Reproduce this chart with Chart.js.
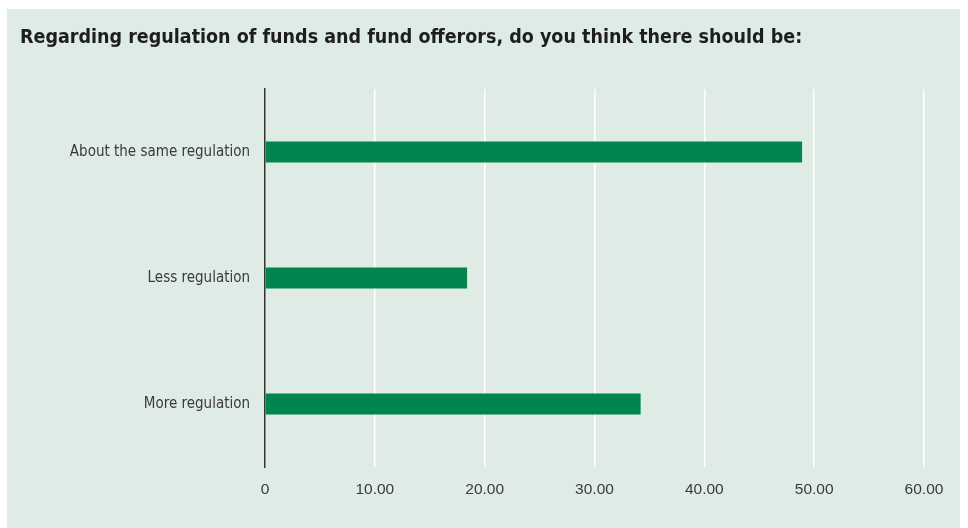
<!DOCTYPE html>
<html>
<head>
<meta charset="utf-8">
<script src="https://cdn.jsdelivr.net/npm/chart.js@4.4.1/dist/chart.umd.min.js"></script>
<style>
  html, body { margin: 0; padding: 0; background: #ffffff; }
  #panel {
    position: absolute;
    left: 7px;
    top: 9px;
    width: 953px;
    height: 519px;
    background: #deece5;
  }
  #panel canvas { display: block; }
</style>
</head>
<body>
<div id="panel"><canvas id="regChart" width="953" height="519"></canvas></div>
<script>
// Chart data
const titleText = 'Regarding regulation of funds and fund offerors, do you think there should be:';
const categories = ['About the same regulation', 'Less regulation', 'More regulation'];
const percentages = [48.9, 18.4, 34.2];
const tickValues = [0, 10, 20, 30, 40, 50, 60];

const barColor = '#00854f';
const textColor = '#3a3a3a';
const condensed = '"DejaVu Sans Condensed", "Liberation Sans Narrow", sans-serif';

const ctx = document.getElementById('regChart');

new Chart(ctx, {
    type: 'bar',
    data: {
        labels: categories,
        datasets: [{
            data: percentages,
            backgroundColor: barColor,
            borderWidth: 0,
            barPercentage: 0.167,
            categoryPercentage: 1.0
        }]
    },
    options: {
        indexAxis: 'y',
        responsive: false,
        animation: false,
        layout: {
            padding: { left: 13, right: 36, top: 0, bottom: 0 }
        },
        plugins: {
            legend: { display: false },
            tooltip: { enabled: false },
            title: {
                display: true,
                text: titleText,
                align: 'start',
                color: '#1e1e1e',
                font: { family: condensed, size: 19.5, weight: 'bold' },
                padding: { top: 17, bottom: 39.6 }
            }
        },
        scales: {
            x: {
                min: 0,
                max: 60,
                afterBuildTicks: function(scale) {
                    scale.ticks = tickValues.map(v => ({ value: v }));
                },
                afterFit: function(scale) {
                    scale.height = 61;
                },
                grid: {
                    color: function(context) {
                        return context.tick && context.tick.value === 0 ? 'rgba(0,0,0,0)' : '#ffffff';
                    },
                    lineWidth: 1.5,
                    drawTicks: false
                },
                border: { display: false },
                ticks: {
                    padding: 13,
                    color: textColor,
                    font: { family: '"Liberation Sans", Arial, sans-serif', size: 15.5 },
                    callback: function(value) {
                        return value === 0 ? '0' : value.toFixed(2);
                    }
                }
            },
            y: {
                afterFit: function(scale) {
                    scale.width = 245;
                },
                grid: { display: false, drawTicks: false },
                border: { display: true, color: '#333333', width: 1.5 },
                ticks: {
                    padding: 15,
                    color: textColor,
                    font: { family: condensed, size: 15 }
                }
            }
        }
    }
});
</script>
</body>
</html>
